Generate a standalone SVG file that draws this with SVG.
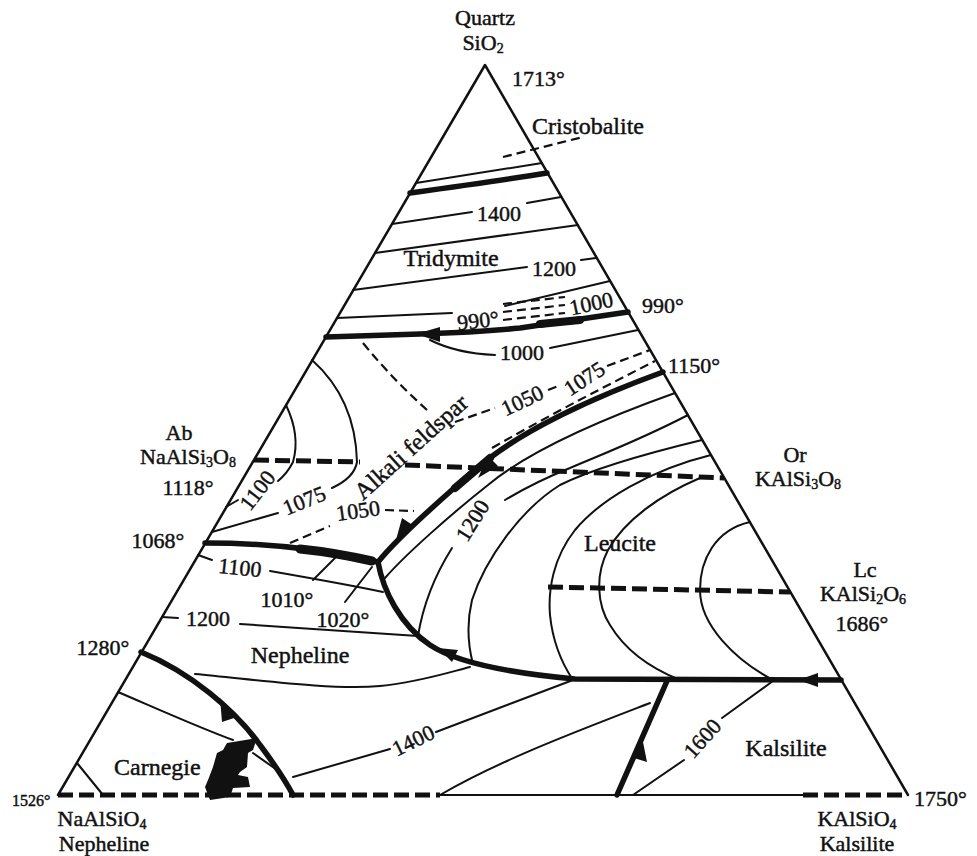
<svg xmlns="http://www.w3.org/2000/svg" width="977" height="856" viewBox="0 0 977 856">
<style>
  .ln{fill:none;stroke:#111;stroke-linecap:round;stroke-linejoin:round}
  .edge{stroke-width:2.5}
  .th{stroke-width:2}
  .tk{stroke-width:5.5}
  .dk{stroke-width:5;stroke-dasharray:15 6;stroke-linecap:butt}
  .dt{stroke-width:2.2;stroke-dasharray:9 5;stroke-linecap:butt}
  .ar{fill:#111;stroke:none}
  text{font-family:"Liberation Serif","Times New Roman",serif;fill:#111;stroke:#111;stroke-width:0.45}
  .w{font-size:24px}
  .st{font-size:22px}
  .n{font-size:22px}
  .s{font-size:16px}
  .c{text-anchor:middle}
</style>
<rect width="977" height="856" fill="#fff"/>

<g id="triangle">
  <path class="ln edge" d="M58,795 L485,65 L908,795"/>
  <path class="ln dk" d="M58,795 L440,795"/>
  <path class="ln th" d="M440,795 L803,795"/>
  <path class="ln dk" d="M803,795 L908,795"/>
</g>

<g id="joins">
  <path class="ln dk" d="M254,460 L360,462"/>
  <path class="ln dk" d="M405,465 L724,478"/>
  <path class="ln dk" d="M548,587 L790,592"/>
</g>

<g id="connectors">
  <!-- boundary curves (thick) -->
  <path class="ln tk" d="M410,193 C460,186 510,179 547,173"/>
  <path class="ln tk" d="M326,337 L420,334 Q480,332 520,328 L628,312"/>
  <path class="ln tk" d="M663,372 C600,395 520,430 475,470 C440,500 400,535 378,562"/>
  <path class="ln tk" d="M205,543 C260,543 320,548 378,562"/>
  <path class="ln tk" d="M378,562 C383,590 400,625 430,645 C460,665 520,674 575,679 L841,680"/>
  <path class="ln tk" d="M617,795 L667,681"/>
  <path class="ln tk" d="M141,652 C190,672 235,710 260,745 C275,765 285,780 293,795"/>
  <!-- thickened parts -->
  <path class="ln" stroke-width="9" d="M300,549 C330,552 350,556 372,561"/>
  <path class="ln" stroke-width="8" d="M540,324 L580,320"/>
  <path class="ln" stroke-width="8" d="M455,488 L490,458"/>
  <!-- arrowheads -->
  <polygon class="ar" points="416,334 440,327 440,342"/>
  <polygon class="ar" points="478,478 488,456 498,466"/>
  <polygon class="ar" points="396,540 402,518 414,526"/>
  <polygon class="ar" points="438,648 458,650 452,662"/>
  <polygon class="ar" points="798,680 818,673 818,687"/>
  <polygon class="ar" points="642,737 634,758 647,762"/>
  <polygon class="ar" points="220,698 234,718 222,722"/>

  <!-- silica field contours -->
  <path class="ln th" d="M416,183 L542,163"/>
  <path class="ln dt" d="M503,157 L583,137"/>
  <path class="ln th" d="M392,224 L472,212"/>
  <path class="ln th" d="M527,203 L561,197"/>
  <path class="ln th" d="M375,253 L578,225"/>
  <path class="ln th" d="M353,290 L527,267"/>
  <path class="ln th" d="M581,260 L596,258"/>
  <path class="ln th" d="M337,318 L452,313"/>
  <path class="ln th" d="M505,306 L610,281"/>
  <path class="ln dt" d="M503,304 L565,297"/>
  <path class="ln dt" d="M503,312 L565,305"/>
  <path class="ln dt" d="M503,320 L565,313"/>
  <path class="ln th" d="M430,340 C450,350 470,354 495,355"/>
  <path class="ln th" d="M550,348 L638,330"/>

  <!-- feldspar field contours -->
  <path class="ln dt" d="M363,343 C385,370 405,390 427,410"/>
  <path class="ln dt" d="M455,422 L495,408"/>
  <path class="ln dt" d="M548,390 L558,386"/>
  <path class="ln dt" d="M607,366 L650,350"/>
  <path class="ln dt" d="M492,448 C555,412 610,384 655,361"/>
  <path class="ln th" d="M286,405 C297,428 297,448 293,462 C289,470 284,476 278,481"/>
  <path class="ln th" d="M238,500 L226,507"/>
  <path class="ln th" d="M312,360 C340,385 356,420 357,462 C355,474 345,482 332,488"/>
  <path class="ln th" d="M278,513 L212,532"/>
  <path class="ln dt" d="M290,543 L330,526"/>
  <path class="ln dt" d="M385,510 L414,511"/>

  <!-- leucite field contours -->
  <path class="ln th" d="M675,393 C605,418 530,450 488,485 C450,515 405,555 385,578"/>
  <path class="ln th" d="M688,415 C640,440 600,455 570,468 C545,478 525,488 505,500"/>
  <path class="ln th" d="M452,548 C435,575 423,605 418,636"/>
  <path class="ln th" d="M702,440 C640,455 590,470 560,485 C520,510 485,560 472,600 C466,625 468,645 473,664"/>
  <path class="ln th" d="M711,455 C650,470 600,500 575,530 C553,558 548,590 550,615 C553,645 563,665 573,680"/>
  <path class="ln th" d="M700,478 C660,495 625,520 608,550 C595,575 597,605 610,625 C625,650 650,668 680,680"/>
  <path class="ln th" d="M750,522 C715,530 700,560 700,590 C700,625 735,660 773,680"/>

  <!-- nepheline / kalsilite field contours -->
  <path class="ln th" d="M198,555 L212,560"/>
  <path class="ln th" d="M270,571 C310,578 350,585 383,592"/>
  <path class="ln th" d="M313,580 L335,558"/>
  <path class="ln th" d="M345,602 L372,567"/>
  <path class="ln th" d="M162,617 L178,618"/>
  <path class="ln th" d="M240,624 C300,628 370,633 418,636"/>
  <path class="ln th" d="M195,674 C260,680 330,690 380,686 C420,682 450,672 470,667"/>
  <path class="ln th" d="M293,777 L390,749"/>
  <path class="ln th" d="M436,732 L573,680"/>
  <path class="ln th" d="M650,703 C580,730 500,760 440,795"/>
  <path class="ln th" d="M773,681 L722,718"/>
  <path class="ln th" d="M684,760 L633,795"/>
  <path class="ln th" d="M118,692 C160,710 200,728 233,740"/>
  <path class="ln th" d="M253,753 L277,770"/>
  <path class="ln th" d="M77,763 L103,795"/>
  <polygon class="ar" points="227,743 257,738 253,750 248,753 247,767 240,772 238,775 248,777 250,787 233,788 230,797 210,800 205,787 208,780 213,767 217,753 223,750"/>
</g>

<g id="labels">
  <text class="st c" x="485" y="25">Quartz</text>
  <text class="st c" x="483" y="50">SiO<tspan font-size="14" dy="3">2</tspan></text>
  <text class="n" x="512" y="86">1713°</text>
  <text class="w c" x="588" y="134">Cristobalite</text>
  <text class="n c" x="499" y="221">1400</text>
  <text class="w c" x="451" y="266">Tridymite</text>
  <text class="n c" x="554" y="276">1200</text>
  <text class="n c" x="478" y="328" transform="rotate(-6 478 320)">990°</text>
  <text class="n c" x="591" y="311" transform="rotate(-12 591 303)">1000</text>
  <text class="n c" x="522" y="360">1000</text>
  <text class="n" x="642" y="313">990°</text>
  <text class="n" x="668" y="373">1150°</text>
  <text class="n c" x="522" y="408" transform="rotate(-25 522 400)">1050</text>
  <text class="n c" x="584" y="386" transform="rotate(-33 584 378)">1075</text>
  <text class="w c" x="411" y="455" transform="rotate(-42 411 447)">Alkali feldspar</text>
  <text class="n c" x="257" y="498" transform="rotate(-52 257 490)">1100</text>
  <text class="n c" x="304" y="508" transform="rotate(-22 304 500)">1075</text>
  <text class="n c" x="358" y="518" transform="rotate(-8 358 510)">1050</text>
  <text class="st c" x="179" y="440">Ab</text>
  <text class="st c" x="188" y="464">NaAlSi<tspan font-size="14" dy="3">3</tspan><tspan dy="-3">O</tspan><tspan font-size="14" dy="3">8</tspan></text>
  <text class="n c" x="188" y="495">1118°</text>
  <text class="n c" x="158" y="548">1068°</text>
  <text class="st c" x="795" y="462">Or</text>
  <text class="st c" x="798" y="486">KAlSi<tspan font-size="14" dy="3">3</tspan><tspan dy="-3">O</tspan><tspan font-size="14" dy="3">8</tspan></text>
  <text class="w c" x="620" y="551">Leucite</text>
  <text class="n c" x="472" y="528" transform="rotate(-58 472 520)">1200</text>
  <text class="st c" x="865" y="577">Lc</text>
  <text class="st c" x="863" y="601">KAlSi<tspan font-size="14" dy="3">2</tspan><tspan dy="-3">O</tspan><tspan font-size="14" dy="3">6</tspan></text>
  <text class="n c" x="862" y="631">1686°</text>
  <text class="n c" x="240" y="575" transform="rotate(6 240 567)">1100</text>
  <text class="n c" x="287" y="607">1010°</text>
  <text class="n c" x="343" y="627">1020°</text>
  <text class="n c" x="208" y="626">1200</text>
  <text class="n c" x="103" y="655">1280°</text>
  <text class="w c" x="300" y="663">Nepheline</text>
  <text class="n c" x="413" y="748" transform="rotate(-26 413 740)">1400</text>
  <text class="n c" x="702" y="746" transform="rotate(-48 702 738)">1600</text>
  <text class="w c" x="786" y="756">Kalsilite</text>
  <text class="w" x="114" y="775">Carnegie</text>
  <text class="s" x="12" y="806">1526°</text>
  <text class="st c" x="102" y="826">NaAlSiO<tspan font-size="14" dy="3">4</tspan></text>
  <text class="st c" x="104" y="851">Nepheline</text>
  <text class="n" x="914" y="806">1750°</text>
  <text class="st c" x="857" y="826">KAlSiO<tspan font-size="14" dy="3">4</tspan></text>
  <text class="st c" x="857" y="851">Kalsilite</text>
</g>
</svg>
